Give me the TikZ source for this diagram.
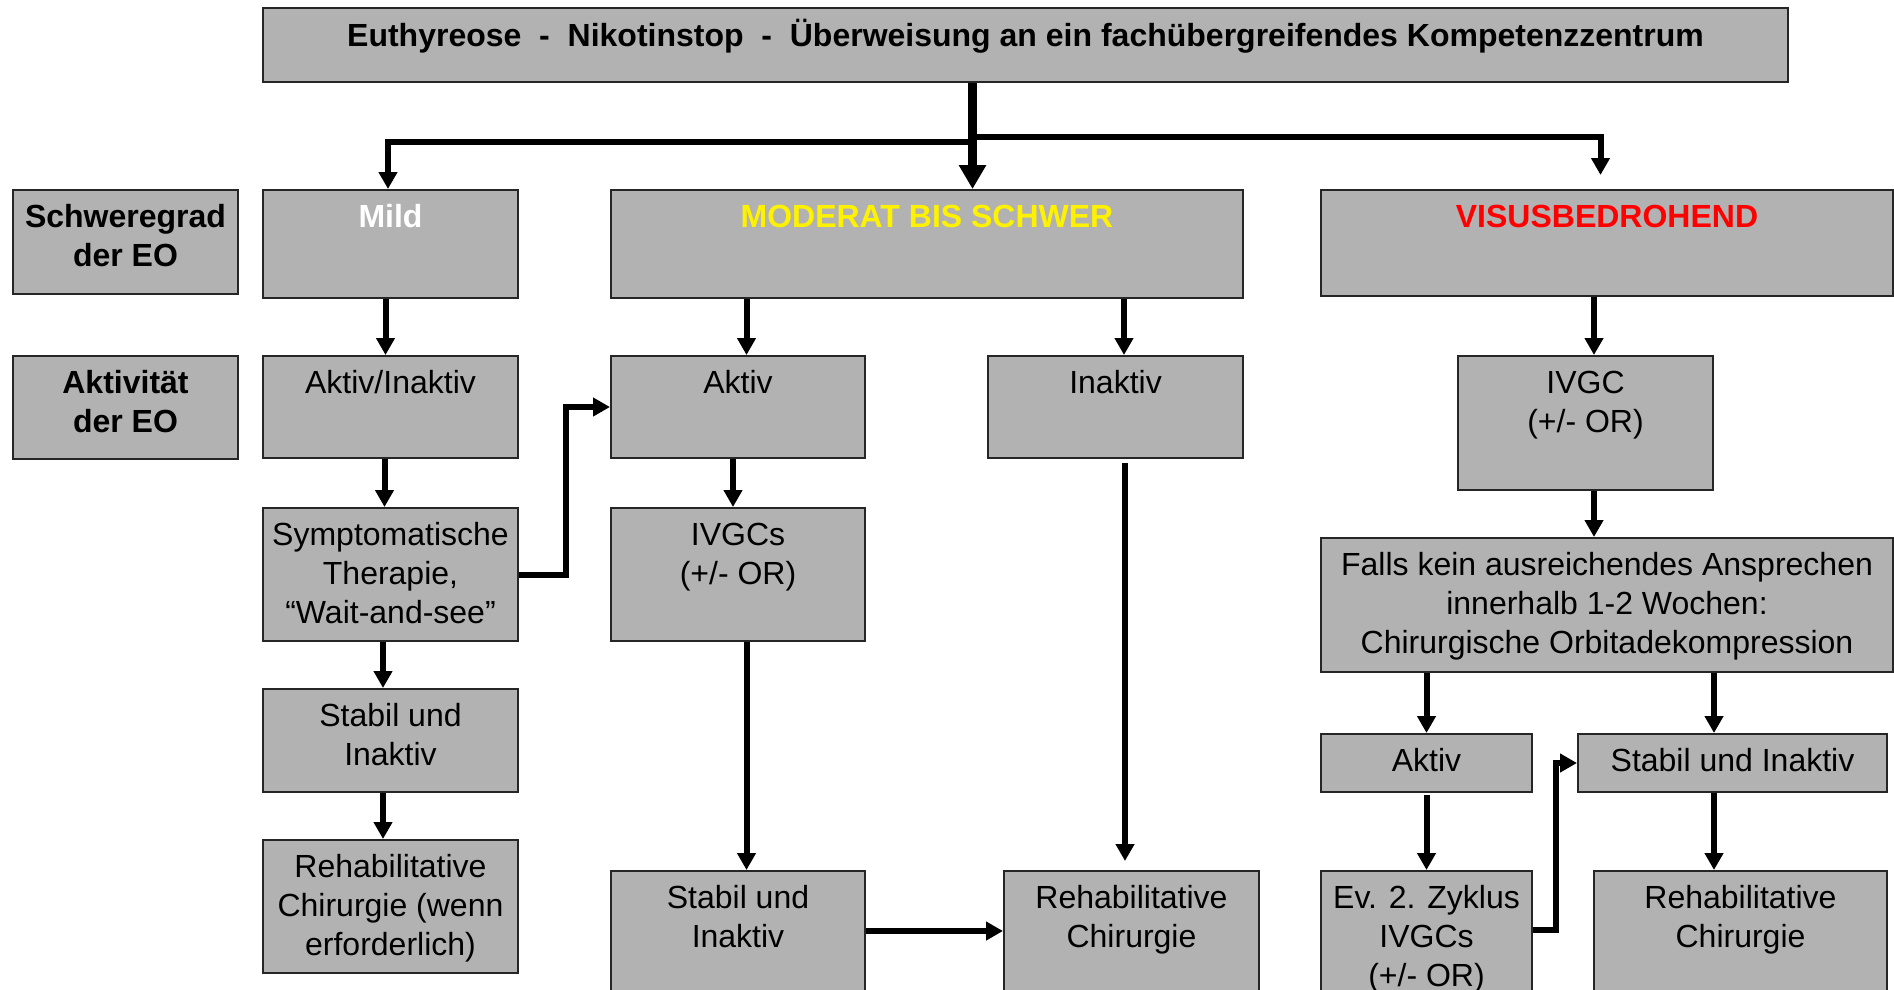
\documentclass[tikz,border=0pt]{standalone}
\usepackage{fontspec}
\setmainfont{Liberation Sans}
\usepackage{tikz}
\usetikzlibrary{arrows.meta, positioning, calc}
\definecolor{boxgray}{RGB}{178,178,178}
\tikzstyle{box} = [draw=black!85, line width=2pt, fill=boxgray, inner sep=0pt, minimum width=255pt]
\tikzstyle{txt} = [anchor=north, inner sep=0pt, yshift=-15.5pt, align=center, font=\fontsize{32}{39}\selectfont]
\tikzstyle{head} = [txt, font=\bfseries\fontsize{32}{39}\selectfont]
\tikzstyle{arrow} = [line width=6pt, -{Triangle[width=18pt,length=17pt]}]
\tikzstyle{bigarrow} = [line width=9pt, -{Triangle[width=26pt,length=24pt]}]

\begin{document}
\begin{tikzpicture}[x=1pt, y=-1pt]
    \useasboundingbox (0,0) rectangle (1894,989);
    \clip (0,0) rectangle (1894,989);
    % top row
    \node[box, minimum width=1525pt, minimum height=74pt,
      label={[txt, yshift=3.5pt, font=\bfseries\fontsize{32}{38}\selectfont]north:{Euthyreose\ \ -\ \ Nikotinstop\ \ -\ \ Überweisung an ein fachübergreifendes Kompetenzzentrum}}] (b_top) at (1025.5,45) {};
    % Schweregrad
    \node[box, minimum width=225pt, minimum height=104pt, label={[head]north:{Schweregrad\\der EO}}] (b_sev) at (125.5,242) {};
    \node[box, minimum height=108pt, label={[head, text=white]north:Mild}] (b_mild) at (390.5,244) {};
    \node[box, minimum width=632pt, minimum height=108pt, label={[head, text=yellow]north:MODERAT BIS SCHWER}] (b_mod) at (927,244) {};
    \node[box, minimum width=572pt, minimum height=106pt, label={[head, text=red]north:VISUSBEDROHEND}] (b_vis) at (1607,243) {};
    % Aktivitaet
    \node[box, minimum width=225pt, minimum height=103pt, label={[head]north:{Aktivität\\der EO}}] (b_act) at (125.5,407.5) {};
    \node[box, minimum height=102pt, label={[txt]north:Aktiv/Inaktiv}] (b_ai) at (390.5,407) {};
    \node[box, minimum width=254pt, minimum height=102pt, label={[txt]north:Aktiv}] (b_akt) at (738,407) {};
    \node[box, minimum height=102pt, label={[txt]north:Inaktiv}] (b_inakt) at (1115.5,407) {};
    \node[box, minimum height=134pt, label={[txt]north:{IVGC\\(+/- OR)}}] (b_ivgc) at (1585.5,423) {};
    % therapy
    \node[box, minimum height=133pt, label={[txt]north:{Symptomatische\\Therapie,\\“Wait-and-see”}}] (b_sym) at (390.5,574.5) {};
    \node[box, minimum width=254pt, minimum height=133pt, label={[txt]north:{IVGCs\\(+/- OR)}}] (b_ivgcs) at (738,574.5) {};
    \node[box, minimum width=572pt, minimum height=134pt, label={[txt]north:{Falls kein ausreichendes Ansprechen\\innerhalb 1-2 Wochen:\\Chirurgische Orbitadekompression}}] (b_falls) at (1607,605) {};
    % stable
    \node[box, minimum height=103pt, label={[txt]north:{Stabil und\\Inaktiv}}] (b_stabA) at (390.5,740.5) {};
    \node[box, minimum width=211pt, minimum height=58pt, label={[txt]north:Aktiv}] (b_aktR) at (1426.5,763) {};
    \node[box, minimum width=309pt, minimum height=58pt, label={[txt]north:Stabil und Inaktiv}] (b_stabR) at (1732.5,763) {};
    % bottom row
    \node[box, minimum height=133pt, label={[txt]north:{Rehabilitative\\Chirurgie (wenn\\erforderlich)}}] (b_rehabA) at (390.5,906.5) {};
    \node[box, minimum width=254pt, minimum height=133pt, label={[txt]north:{Stabil und\\Inaktiv}}] (b_stabB) at (738,937.5) {};
    \node[box, minimum height=133pt, label={[txt]north:{Rehabilitative\\Chirurgie}}] (b_rehabB) at (1131.5,937.5) {};
    \node[box, minimum width=211pt, minimum height=133pt, label={[txt]north:{Ev. 2. Zyklus\\IVGCs\\(+/- OR)}}] (b_ev) at (1426.5,937.5) {};
    \node[box, minimum width=293pt, minimum height=133pt, label={[txt]north:{Rehabilitative\\Chirurgie}}] (b_rehabC) at (1740.5,937.5) {};

    % connectors from the top
    \coordinate (c_splitL) at (972.5,141.5);
    \coordinate (c_splitR) at (972.5,137);
    \coordinate (c_visin) at (1600.5,175);
    \draw[line width=6pt] (c_splitL) -- (c_splitR);
    \draw[arrow] (c_splitL) -| (b_mild.north -| 388,0);
    \draw[arrow] (c_splitR) -| (c_visin);
    \draw[bigarrow] (b_top.south -| c_splitL) -- (b_mod.north -| c_splitL);

    \path[arrow]
    ([xshift=-5]b_mild.south) edge ([xshift=-5]b_ai.north)
    ([xshift=8.5]b_mod.south -| b_akt) edge ([xshift=8.5]b_akt.north)
    ([xshift=8.5]b_mod.south -| b_inakt) edge ([xshift=8.5]b_inakt.north)
    ([xshift=-13]b_vis.south) edge ([xshift=8.5]b_ivgc.north)
    ([xshift=-6]b_ai.south) edge ([xshift=-6]b_sym.north)
    ([xshift=-5]b_akt.south) edge ([xshift=-5]b_ivgcs.north)
    ([xshift=-7.5]b_sym.south) edge ([xshift=-7.5]b_stabA.north)
    ([xshift=-7.5]b_stabA.south) edge ([xshift=-7.5]b_rehabA.north)
    ([xshift=8.5]b_ivgcs.south) edge ([xshift=8.5]b_stabB.north)
    ([xshift=8.5]b_ivgc.south) edge ([xshift=-13]b_falls.north)
    (b_falls.south -| b_aktR) edge (b_aktR.north)
    (b_falls.south -| 1714,0) edge (b_stabR.north -| 1714,0)
    ([yshift=-2]b_aktR.south) edge (b_ev.north)
    ([xshift=-18.5]b_stabR.south) edge ([xshift=-26.5]b_rehabC.north)
    ([yshift=6.5]b_stabB.east) edge ([yshift=6.5]b_rehabB.west);
    \draw[arrow, shorten <=4pt, shorten >=9pt] ([xshift=9.5]b_inakt.south) -- ([xshift=9.5]b_inakt.south |- b_rehabB.north);
    \draw[arrow] (b_sym.east) -- ++(47,0) |- (b_akt.west);
    \draw[arrow] ([yshift=7.5]b_ev.east) -- ++(23,0) |- (b_stabR.west);
\end{tikzpicture}
\end{document}
